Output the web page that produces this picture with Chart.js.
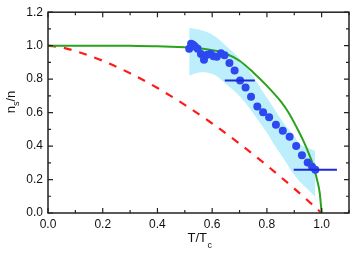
<!DOCTYPE html>
<html>
<head>
<meta charset="utf-8">
<script src="https://cdn.jsdelivr.net/npm/chart.js@4"></script>
<style>
  body { margin: 0; background: #fff; }
</style>
</head>
<body>
<canvas id="chart" width="353" height="254"></canvas>
<script>
// measured points (T/Tc, ns/n)
const dotT = [0.516, 0.523, 0.530, 0.537, 0.547, 0.559, 0.570, 0.582, 0.594, 0.605, 0.617, 0.632, 0.645,
  0.663, 0.682, 0.702, 0.722, 0.742, 0.765, 0.786, 0.808, 0.833, 0.858, 0.883, 0.907, 0.928, 0.949, 0.965, 0.977];
const dotN = [0.982, 1.012, 1.005, 0.995, 0.982, 0.950, 0.916, 0.945, 0.952, 0.937, 0.934, 0.955, 0.942,
  0.896, 0.851, 0.792, 0.750, 0.694, 0.636, 0.602, 0.572, 0.528, 0.492, 0.455, 0.400, 0.345, 0.302, 0.276, 0.259];

// horizontal error bars: [left, right, y]
const errBars = [[0.646, 0.756, 0.792], [0.898, 1.056, 0.259]];

// shaded uncertainty band
const bandUpT = [0.516, 0.55, 0.589, 0.62, 0.65, 0.69, 0.723, 0.76, 0.789, 0.82, 0.862, 0.9, 0.922, 0.965, 0.977];
const bandUpN = [1.106, 1.097, 1.076, 1.045, 1.0, 0.94, 0.875, 0.79, 0.715, 0.64, 0.537, 0.46, 0.41, 0.38, 0.37];
const bandLoT = [0.516, 0.553, 0.58, 0.613, 0.644, 0.68, 0.71, 0.741, 0.77, 0.801, 0.83, 0.862, 0.89, 0.922, 0.95, 0.977];
const bandLoN = [0.822, 0.84, 0.84, 0.822, 0.78, 0.73, 0.68, 0.616, 0.55, 0.478, 0.4, 0.322, 0.25, 0.184, 0.14, 0.095];

// green solid model curve
const greenT = [0, 0.1, 0.2, 0.3, 0.4, 0.5, 0.55, 0.6, 0.65, 0.7, 0.75, 0.8, 0.85, 0.88, 0.91, 0.935, 0.955, 0.97, 0.983, 0.993, 1.0];
const greenN = [1.0, 1.0, 1.0, 0.999, 0.997, 0.99, 0.984, 0.973, 0.952, 0.91, 0.84, 0.76, 0.668, 0.598, 0.508, 0.425, 0.348, 0.28, 0.2, 0.12, 0.0];

// red dashed model curve
const redT = [0, 0.05, 0.1, 0.2, 0.3, 0.4, 0.5, 0.6, 0.7, 0.8, 0.9, 1.0];
const redN = [1.0, 0.989, 0.968, 0.91, 0.835, 0.747, 0.646, 0.535, 0.414, 0.284, 0.146, 0.0];

const xTicks = [0, 0.2, 0.4, 0.6, 0.8, 1.0];
const xMinor = [0.1, 0.3, 0.5, 0.7, 0.9, 1.1];
const yTicks = [0, 0.2, 0.4, 0.6, 0.8, 1.0, 1.2];
const yMinor = [0.1, 0.3, 0.5, 0.7, 0.9, 1.1];

const FONT = "'Liberation Sans', Arial, sans-serif";

function pts(xs, ys) {
  return xs.map((v, i) => ({ x: v, y: ys[i] }));
}

// frame with inward ticks + axis titles with subscripts
const framePlugin = {
  id: 'frame',
  afterDraw(chart) {
    const { ctx, chartArea: a, scales: { x, y } } = chart;
    ctx.save();
    ctx.strokeStyle = '#222';
    ctx.lineWidth = 1.5;
    ctx.strokeRect(a.left, a.top, a.right - a.left, a.bottom - a.top);

    ctx.lineWidth = 1.2;
    ctx.beginPath();
    const xt = (v, len) => {
      const p = x.getPixelForValue(v);
      ctx.moveTo(p, a.bottom); ctx.lineTo(p, a.bottom - len);
      ctx.moveTo(p, a.top); ctx.lineTo(p, a.top + len);
    };
    const yt = (v, len) => {
      const p = y.getPixelForValue(v);
      ctx.moveTo(a.left, p); ctx.lineTo(a.left + len, p);
      ctx.moveTo(a.right, p); ctx.lineTo(a.right - len, p);
    };
    xTicks.forEach(v => xt(v, 5));
    xMinor.forEach(v => xt(v, 3));
    yTicks.forEach(v => yt(v, 5));
    yMinor.forEach(v => yt(v, 3));
    ctx.stroke();

    ctx.fillStyle = '#111';
    ctx.textBaseline = 'alphabetic';
    ctx.textAlign = 'left';

    // x title: T/Tc
    ctx.font = '13px ' + FONT;
    const main = 'T/T';
    const w1 = ctx.measureText(main).width;
    ctx.font = '9px ' + FONT;
    const w2 = ctx.measureText('c').width;
    let sx = (a.left + a.right) / 2 + 1 - (w1 + w2) / 2;
    ctx.font = '13px ' + FONT;
    ctx.fillText(main, sx, 242);
    ctx.font = '9px ' + FONT;
    ctx.fillText('c', sx + w1 + 0.5, 248);

    // y title: ns/n (rotated)
    ctx.save();
    ctx.translate(15, 102);
    ctx.rotate(-Math.PI / 2);
    ctx.font = '13px ' + FONT;
    const n1 = ctx.measureText('n').width;
    const n3 = ctx.measureText('/n').width;
    ctx.font = '9px ' + FONT;
    const n2 = ctx.measureText('s').width;
    let tx = -(n1 + n2 + n3) / 2;
    ctx.font = '13px ' + FONT;
    ctx.fillText('n', tx, 0);
    ctx.font = '9px ' + FONT;
    ctx.fillText('s', tx + n1, 3.5);
    ctx.font = '13px ' + FONT;
    ctx.fillText('/n', tx + n1 + n2, 0);
    ctx.restore();

    ctx.restore();
  }
};

const datasets = [
  {
    label: 'band upper',
    data: pts(bandUpT, bandUpN),
    borderColor: 'rgba(0,0,0,0)',
    borderWidth: 0,
    backgroundColor: '#bdeefb',
    fill: '+1',
    pointRadius: 0,
    tension: 0.3,
    order: 6
  },
  {
    label: 'band lower',
    data: pts(bandLoT, bandLoN),
    borderColor: 'rgba(0,0,0,0)',
    borderWidth: 0,
    fill: false,
    pointRadius: 0,
    tension: 0.3,
    order: 7
  },
  {
    label: 'red',
    data: pts(redT, redN),
    borderColor: '#ff1a1a',
    borderWidth: 2.2,
    borderDash: [8, 8],
    fill: false,
    pointRadius: 0,
    cubicInterpolationMode: 'monotone',
    order: 5
  },
  {
    label: 'green',
    data: pts(greenT, greenN),
    borderColor: '#2aa31c',
    borderWidth: 2,
    fill: false,
    pointRadius: 0,
    cubicInterpolationMode: 'monotone',
    order: 4
  },
  {
    label: 'data',
    data: pts(dotT, dotN),
    showLine: false,
    pointRadius: 4,
    pointBorderWidth: 0,
    pointBackgroundColor: '#2c48f0',
    pointBorderColor: '#2c48f0',
    order: 3
  }
];

errBars.forEach(([l, r, v]) => {
  datasets.push({
    label: 'err',
    data: [{ x: l, y: v }, { x: r, y: v }],
    borderColor: '#1a2ad6',
    borderWidth: 2,
    pointRadius: 0,
    fill: false,
    order: 1
  });
});

new Chart(document.getElementById('chart').getContext('2d'), {
  type: 'line',
  data: { datasets },
  options: {
    responsive: false,
    devicePixelRatio: 1,
    animation: false,
    layout: { padding: { top: 9.5, right: 1.5, left: 0, bottom: 0 } },
    plugins: {
      legend: { display: false },
      tooltip: { enabled: false },
      title: { display: false }
    },
    scales: {
      x: {
        type: 'linear',
        min: 0,
        max: 1.1,
        grid: { display: false, drawTicks: false, tickLength: 0 },
        border: { display: false },
        afterBuildTicks: s => { s.ticks = xTicks.map(v => ({ value: v })); },
        afterFit: s => { s.height = 41; },
        ticks: {
          padding: 4,
          maxRotation: 0,
          color: '#111',
          font: { family: FONT, size: 12 },
          callback: v => v.toFixed(1)
        }
      },
      y: {
        type: 'linear',
        min: 0,
        max: 1.2,
        grid: { display: false, drawTicks: false, tickLength: 0 },
        border: { display: false },
        afterBuildTicks: s => { s.ticks = yTicks.map(v => ({ value: v })); },
        afterFit: s => { s.width = 48; },
        ticks: {
          padding: 5,
          color: '#111',
          font: { family: FONT, size: 12 },
          callback: v => v.toFixed(1)
        }
      }
    }
  },
  plugins: [framePlugin]
});
</script>
</body>
</html>
